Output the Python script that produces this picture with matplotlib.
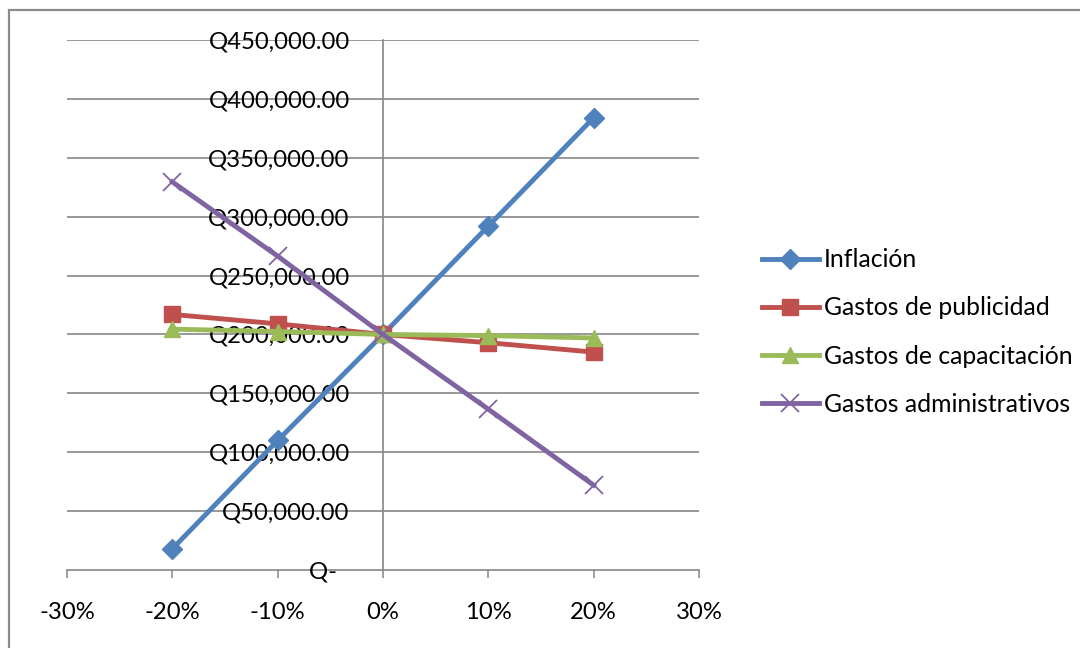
import numpy as np
import matplotlib
matplotlib.use("Agg")
import matplotlib.pyplot as plt
from matplotlib.patches import Rectangle
from matplotlib.ticker import FuncFormatter

# data
variacion = [-0.20, -0.10, 0.0, 0.10, 0.20]
inflacion = [18000, 110000, 200000, 292000, 384000]
gastos_publicidad = [217000, 209000, 200000, 193000, 185000]
gastos_capacitacion = [204500, 202500, 200000, 199000, 197000]
gastos_administrativos = [329500, 266500, 200000, 136500, 72000]

series_names = ["Inflación", "Gastos de publicidad",
                "Gastos de capacitación", "Gastos administrativos"]
y_ticks = np.arange(0, 450001, 50000)
x_ticks = np.arange(-0.30, 0.301, 0.10)

DPI = 100
FIGSIZE = (10.8, 6.48)
FONT = "Lato"
FONTSIZE_TICKS = 17.2
FONTSIZE_LEGEND = 17.8
GRID = "#868686"
COLORS = ["#4F81BD", "#C0504D", "#9BBB59", "#8064A2"]
MARKERS = dict(
    inflacion=dict(marker="D", markersize=10.5),
    publicidad=dict(marker="s", markersize=11),
    capacitacion=dict(marker="^", markersize=12),
    administrativos=dict(marker="x", markersize=13, markeredgewidth=1.3),
)

plt.rcParams["font.family"] = [FONT, "DejaVu Sans"]

fig = plt.figure(figsize=FIGSIZE, dpi=DPI)
fig.patches.append(Rectangle((9 / 1080, -0.1), 1.2, 1.1 - 10 / 648,
                             transform=fig.transFigure, fill=False,
                             edgecolor="#8C8C8C", lw=1.6))
ax = fig.add_axes([67 / 1080, 1 - 570 / 648, 632 / 1080, 530 / 648])

# gridlines drawn under the series
for yv in y_ticks[1:]:
    ax.axhline(yv, color=GRID, lw=1.2, zorder=1)

data = [inflacion, gastos_publicidad, gastos_capacitacion, gastos_administrativos]
for vals, name, c, mk in zip(data, series_names, COLORS, MARKERS.values()):
    ax.plot(variacion, vals, color=c, lw=3.5, label=name, zorder=3,
            markerfacecolor=c, markeredgecolor=c, **mk)

ax.set_xlim(-0.30, 0.30)
ax.set_ylim(0, 450000)
ax.set_xticks(x_ticks)
ax.set_yticks(y_ticks)
ax.xaxis.set_major_formatter(FuncFormatter(lambda v, p: f"{v * 100:.0f}%"))


def q_fmt(v, p):
    if abs(v) < 1:
        return "Q-  "
    return f"Q{v:,.2f}"


ax.yaxis.set_major_formatter(FuncFormatter(q_fmt))

for s in ["top", "right"]:
    ax.spines[s].set_visible(False)
ax.spines["left"].set_position(("data", 0))
for s in ["left", "bottom"]:
    ax.spines[s].set_color(GRID)
    ax.spines[s].set_linewidth(1.2)
    ax.spines[s].set_zorder(1)
ax.set_axisbelow(False)

ax.tick_params(axis="y", length=0, pad=24, labelsize=FONTSIZE_TICKS)
ax.tick_params(axis="x", length=6, width=1.1, color=GRID, direction="out",
               pad=17, labelsize=FONTSIZE_TICKS)
ax.patch.set_alpha(0)

ax.legend(loc="center left", bbox_to_anchor=(762 / 1080, 1 - 332 / 648),
          bbox_transform=fig.transFigure, frameon=False,
          fontsize=FONTSIZE_LEGEND, handlelength=2.3, handletextpad=0.2,
          labelspacing=1.02, borderpad=0, borderaxespad=0)

fig.savefig("out.png", dpi=DPI)
